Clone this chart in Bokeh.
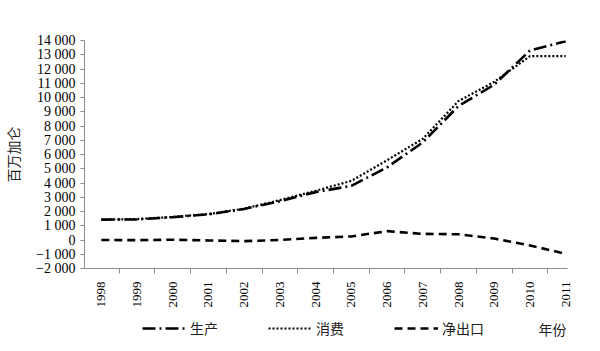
from bokeh.plotting import figure
from bokeh.layouts import column
from bokeh.models import FixedTicker, Legend, LegendItem, Label, Range1d
from bokeh.embed import file_html
from bokeh.resources import INLINE
import math

years = [1998, 1999, 2000, 2001, 2002, 2003, 2004, 2005, 2006, 2007, 2008, 2009, 2010, 2011]
production = [1430, 1450, 1600, 1800, 2180, 2720, 3360, 3800, 5100, 6850, 9400, 10900, 13300, 13950]
consumption = [1430, 1470, 1620, 1820, 2200, 2800, 3450, 4150, 5600, 7100, 9750, 11100, 12900, 12900]
net_exports = [0, -10, 20, -30, -80, 0, 150, 250, 620, 430, 400, 100, -380, -970]

y_ticks = list(range(-2000, 14001, 1000))
y_tick_labels = ["\u22122 000", "\u22121 000", "0", "1 000", "2 000", "3 000", "4 000", "5 000",
                 "6 000", "7 000", "8 000", "9 000", "10 000", "11 000", "12 000", "13 000", "14 000"]
x_tick_labels = [str(y) for y in years]

series_names = ["生产", "消费", "净出口"]
y_title = "百万加仑"
x_title = "年份"

serif = "Liberation Serif"
cjk = "Noto Sans CJK SC"
axis_col = "#8c8c8c"

styles = [dict(line_width=2.6, line_dash="13 4 2 4"),
          dict(line_width=2.2, line_dash="2 2"),
          dict(line_width=2.6, line_dash="8 5")]

p = figure(width=600, height=313, output_backend="svg", toolbar_location=None,
           min_border_left=82, min_border_right=33, min_border_top=40, min_border_bottom=45,
           x_range=Range1d(1997.53, 2011.05), y_range=Range1d(-2000, 14000))
p.outline_line_color = None
p.xgrid.visible = False
p.ygrid.visible = False

for ys, st in zip([production, consumption, net_exports], styles):
    p.line(years, ys, line_color="black", **st)

# y axis
p.yaxis.ticker = FixedTicker(ticks=y_ticks)
p.yaxis.major_label_overrides = {t: l for t, l in zip(y_ticks, y_tick_labels)}
p.yaxis.major_label_text_font = serif
p.yaxis.major_label_text_font_size = "14px"
p.yaxis.major_label_text_color = "black"
p.yaxis.axis_line_color = axis_col
p.yaxis.major_tick_line_color = axis_col
p.yaxis.major_tick_out = 4
p.yaxis.major_tick_in = 0
p.yaxis.minor_tick_line_color = None
p.yaxis.major_label_standoff = 5
p.yaxis.axis_label = y_title
p.yaxis.axis_label_text_font = cjk
p.yaxis.axis_label_text_font_style = "normal"
p.yaxis.axis_label_text_font_size = "14px"
p.yaxis.axis_label_text_color = "#222222"
p.yaxis.axis_label_standoff = 10

# x axis
p.xaxis.ticker = FixedTicker(ticks=years, minor_ticks=[y + 0.5 for y in years[:-1]])
p.xaxis.major_label_overrides = {y: l for y, l in zip(years, x_tick_labels)}
p.xaxis.major_label_orientation = math.pi / 2
p.xaxis.major_label_text_font = serif
p.xaxis.major_label_text_font_size = "13px"
p.xaxis.major_label_text_color = "black"
p.xaxis.axis_line_color = axis_col
p.xaxis.major_tick_out = 0
p.xaxis.major_tick_in = 0
p.xaxis.minor_tick_line_color = axis_col
p.xaxis.minor_tick_out = 5
p.xaxis.minor_tick_in = 0
p.xaxis.major_label_standoff = 8

# legend strip (x in page pixels)
q = figure(width=600, height=38, output_backend="svg", toolbar_location=None,
           min_border_left=82, min_border_right=33, min_border_top=0, min_border_bottom=0,
           x_range=Range1d(82, 567), y_range=Range1d(0, 38))
q.outline_line_color = None
q.axis.visible = False
q.grid.visible = False
rs = [q.line([0, 1], [-50, -50], line_color="black", **st) for st in styles]
legend = Legend(items=[LegendItem(label=n, renderers=[r]) for n, r in zip(series_names, rs)],
                orientation="horizontal", location=(58, 13),
                glyph_width=44, glyph_height=20, label_standoff=4, spacing=50,
                padding=0, margin=0, border_line_color=None, background_fill_alpha=0,
                label_text_font=cjk, label_text_font_size="14px", label_text_color="#222222")
q.add_layout(legend, "center")
q.add_layout(Label(x=538, y=23, text=x_title,
                   text_font=cjk, text_font_size="14px", text_color="#222222",
                   text_baseline="middle"))

open("out.html", "w").write(file_html(column(p, q, spacing=0), INLINE))
